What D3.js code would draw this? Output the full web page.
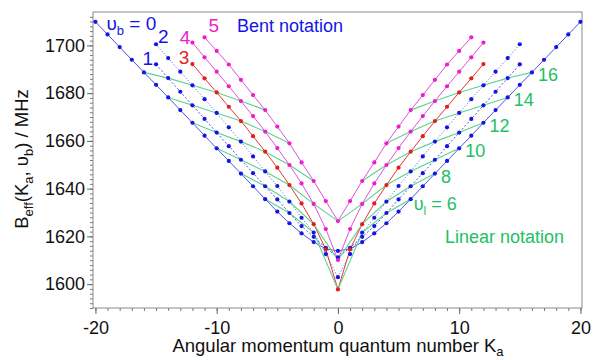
<!DOCTYPE html>
<html>
<head>
<meta charset="utf-8">
<script src="https://cdn.jsdelivr.net/npm/d3@7"></script>
<style>
  body { margin: 0; background: #fff; }
  text { font-family: "Liberation Sans", Arial, sans-serif; }
</style>
</head>
<body>
<script>
// B_eff values (MHz), one array per bending state, K_a ascending
var kVb0 = d3.range(-20, 21);
var vb0 = [1709.9, 1704.6, 1699.3, 1694.0, 1688.7, 1683.5, 1678.2, 1672.9, 1667.6, 1662.2,
           1656.9, 1651.6, 1646.3, 1641.0, 1635.6, 1630.4, 1625.5, 1621.3, 1617.6, 1614.8,
           1613.9,
           1614.8, 1617.6, 1621.3, 1625.5, 1630.4, 1635.6, 1641.0, 1646.3, 1651.6, 1656.9,
           1662.2, 1667.6, 1672.9, 1678.2, 1683.5, 1688.7, 1694.0, 1699.3, 1704.6, 1709.9];

var kVb1 = d3.range(-15, 16);
var vb1 = [1692.1, 1686.3, 1680.6, 1674.9, 1669.2, 1663.5, 1657.8, 1652.1, 1646.5, 1641.0,
           1635.5, 1629.8, 1624.3, 1619.8, 1615.2, 1611.2,
           1615.2, 1619.8, 1624.3, 1629.8, 1635.5, 1641.0, 1646.5, 1652.1, 1657.8, 1663.5,
           1669.2, 1674.9, 1680.6, 1686.3, 1692.1];

var kVb2 = d3.range(-15, 16);
var vb2 = [1700.5, 1694.7, 1689.0, 1683.3, 1677.5, 1671.7, 1665.7, 1659.7, 1653.5, 1647.2,
           1641.1, 1634.6, 1627.8, 1621.6, 1612.6, 1602.9,
           1612.6, 1621.6, 1627.8, 1634.6, 1641.1, 1647.2, 1653.5, 1659.7, 1665.7, 1671.7,
           1677.5, 1683.3, 1689.0, 1694.7, 1700.5];

var kVb3 = d3.range(-12, 13);
var vb3 = [1692.2, 1686.2, 1680.3, 1674.3, 1668.3, 1662.0, 1655.5, 1648.8, 1641.5, 1633.8,
           1625.1, 1614.6, 1597.8,
           1614.6, 1625.1, 1633.8, 1641.5, 1648.8, 1655.5, 1662.0, 1668.3, 1674.3, 1680.3,
           1686.2, 1692.2];

var kVb4 = d3.range(-12, 13);
var vb4 = [1701.2, 1695.0, 1689.0, 1682.9, 1676.7, 1670.4, 1663.9, 1657.0, 1649.9, 1642.2,
           1633.6, 1623.1, 1610.1,
           1623.1, 1633.6, 1642.2, 1649.9, 1657.0, 1663.9, 1670.4, 1676.7, 1682.9, 1689.0,
           1695.0, 1701.2];

var kVb5 = d3.range(-11, 12);
var vb5 = [1703.4, 1697.7, 1692.0, 1685.6, 1679.2, 1672.9, 1666.0, 1659.0, 1651.0, 1643.2,
           1634.8, 1626.4,
           1634.8, 1643.2, 1651.0, 1659.0, 1666.0, 1672.9, 1679.2, 1685.6, 1692.0, 1697.7,
           1703.4];

// linear-notation quantum numbers (green lines join v_l = 2 v_b + |K_a|)
var vlValues = [6, 8, 10, 12, 14, 16];

var xTicks = [-20, -10, 0, 10, 20];
var yTicks = [1600, 1620, 1640, 1660, 1680, 1700];

var W = 597, H = 360;
var mLeft = 93, mRight = 582, mTop = 12, mBottom = 308;

var svg = d3.select("body").append("svg")
            .attr("width", W)
            .attr("height", H);

var x = d3.scaleLinear().domain([-20.2, 20.13]).range([mLeft, mRight]);
var y = d3.scaleLinear().domain([1590, 1714]).range([mBottom, mTop]);

var blue = "#1414e6", blueLine = "#5252e4";
var series = [
  {vb: 0, k: kVb0, b: vb0, line: blueLine, dot: blue, dash: null},
  {vb: 1, k: kVb1, b: vb1, line: blueLine, dot: blue, dash: "2,2"},
  {vb: 2, k: kVb2, b: vb2, line: blueLine, dot: blue, dash: "1,2"},
  {vb: 3, k: kVb3, b: vb3, line: "#ec3434", dot: "#e41c1c", dash: null},
  {vb: 4, k: kVb4, b: vb4, line: "#e050da", dot: "#f01ccc", dash: null},
  {vb: 5, k: kVb5, b: vb5, line: "#e050da", dot: "#f01ccc", dash: null}
];
series.forEach(function(s){
  s.pts = s.k.map(function(k, i){ return {k: k, b: s.b[i]}; });
});

function lookup(vb, k){
  var s = series[vb];
  if (!s) return null;
  var i = s.k.indexOf(k);
  return i < 0 ? null : s.pts[i];
}

function styleTicks(g, col){
  g.select(".domain").remove();
  g.selectAll("line").attr("stroke", col);
  g.selectAll("text").attr("font-size", 18).attr("fill", "#111")
   .attr("font-family", "Liberation Sans, Arial, sans-serif");
}

// minor ticks
svg.append("g")
   .attr("transform", "translate(0," + mBottom + ")")
   .call(d3.axisBottom(x).tickValues(d3.range(-20, 21)).tickSize(3).tickFormat(""))
   .call(styleTicks, "#777");
svg.append("g")
   .attr("transform", "translate(" + mLeft + ",0)")
   .call(d3.axisLeft(y).tickValues(d3.range(1590, 1714, 2)).tickSize(3).tickFormat(""))
   .call(styleTicks, "#777");

// major ticks
svg.append("g")
   .attr("transform", "translate(0," + mBottom + ")")
   .call(d3.axisBottom(x).tickValues(xTicks).tickSize(6).tickPadding(7).tickFormat(String))
   .call(styleTicks, "#666");
svg.append("g")
   .attr("transform", "translate(" + mLeft + ",0)")
   .call(d3.axisLeft(y).tickValues(yTicks).tickSize(6).tickPadding(2).tickFormat(String))
   .call(styleTicks, "#666");

svg.append("rect")
   .attr("x", mLeft).attr("y", mTop)
   .attr("width", mRight - mLeft).attr("height", mBottom - mTop)
   .attr("fill", "none").attr("stroke", "#8a8a8a");

var line = d3.line().x(function(d){ return x(d.k); }).y(function(d){ return y(d.b); });

var plot = svg.append("g");

plot.selectAll("path.series")
    .data(series)
    .enter().append("path")
    .attr("class", "series")
    .attr("d", function(s){ return line(s.pts); })
    .attr("fill", "none")
    .attr("stroke", function(s){ return s.line; })
    .attr("stroke-width", 1)
    .attr("stroke-dasharray", function(s){ return s.dash; });

// green constant-v_l lines, broken where v_b would exceed 5
var greenSegs = [];
vlValues.forEach(function(vl){
  var seg = [];
  for (var k = -vl; k <= vl; k += 2) {
    var p = lookup((vl - Math.abs(k)) / 2, k);
    if (p) { seg.push(p); }
    else { if (seg.length > 1) greenSegs.push(seg); seg = []; }
  }
  if (seg.length > 1) greenSegs.push(seg);
});

plot.selectAll("path.vl")
    .data(greenSegs)
    .enter().append("path")
    .attr("class", "vl")
    .attr("d", line)
    .attr("fill", "none")
    .attr("stroke", "#5cd290")
    .attr("stroke-width", 1.1);

series.forEach(function(s){
  plot.selectAll(null)
      .data(s.pts)
      .enter().append("circle")
      .attr("cx", function(d){ return x(d.k); })
      .attr("cy", function(d){ return y(d.b); })
      .attr("r", 2.1)
      .attr("fill", s.dot);
});

// bent-notation labels next to the first point of each series
function first(vb){ return series[vb].pts[0]; }
var lab = svg.append("g").attr("font-size", 19);

var t0 = lab.append("text")
   .attr("x", x(first(0).k) + 11).attr("y", y(first(0).b) + 8)
   .attr("fill", blue);
t0.append("tspan").text("\u03c5");
t0.append("tspan").attr("font-size", 13).attr("dy", 5).text("b");
t0.append("tspan").attr("dy", -5).text(" = 0");

lab.append("text").attr("x", x(first(1).k) - 3).attr("y", y(first(1).b) + 1)
   .attr("text-anchor", "end").attr("fill", blue).text("1");
lab.append("text").attr("x", x(first(2).k) + 2).attr("y", y(first(2).b) - 1)
   .attr("fill", blue).text("2");
lab.append("text").attr("x", x(first(3).k) - 3).attr("y", y(first(3).b))
   .attr("text-anchor", "end").attr("fill", "#e41c1c").text("3");
lab.append("text").attr("x", x(first(4).k) - 2).attr("y", y(first(4).b) + 1)
   .attr("text-anchor", "end").attr("fill", "#f01ccc").text("4");
lab.append("text").attr("x", x(first(5).k) + 4).attr("y", y(first(5).b) - 5)
   .attr("fill", "#f01ccc").text("5");

svg.append("text").attr("x", 237).attr("y", 32)
   .attr("font-size", 18).attr("fill", blue).text("Bent notation");

// linear-notation labels at the v_b = 0 end of each green line (right side)
var green = "#22c064";
vlValues.forEach(function(vl){
  var p = lookup(0, vl);
  var t = svg.append("text").attr("font-size", 18).attr("fill", green);
  if (vl === 6) {
    t.attr("x", x(p.k) + 3).attr("y", y(p.b) + 11);
    t.append("tspan").text("\u03c5");
    t.append("tspan").attr("font-size", 12).attr("dy", 5).text("l");
    t.append("tspan").attr("dy", -5).text(" = " + vl);
  } else {
    t.attr("x", x(p.k) + 6).attr("y", y(p.b) + 9).text(vl);
  }
});

svg.append("text").attr("x", 445).attr("y", 243)
   .attr("font-size", 18).attr("fill", green).text("Linear notation");

// axis titles
var xt = svg.append("text").attr("x", 338).attr("y", 352)
   .attr("text-anchor", "middle").attr("font-size", 18.5).attr("fill", "#111");
xt.append("tspan").text("Angular momentum quantum number K");
xt.append("tspan").attr("font-size", 13).attr("dy", 4).text("a");

var yt = svg.append("text").attr("transform", "translate(28,159) rotate(-90)")
   .attr("text-anchor", "middle").attr("font-size", 18.5).attr("fill", "#111");
yt.append("tspan").text("B");
yt.append("tspan").attr("font-size", 13).attr("dy", 5).text("eff");
yt.append("tspan").attr("dy", -5).text("(K");
yt.append("tspan").attr("font-size", 13).attr("dy", 5).text("a");
yt.append("tspan").attr("dy", -5).text(", \u03c5");
yt.append("tspan").attr("font-size", 13).attr("dy", 5).text("b");
yt.append("tspan").attr("dy", -5).text(") / MHz");
</script>
</body>
</html>
